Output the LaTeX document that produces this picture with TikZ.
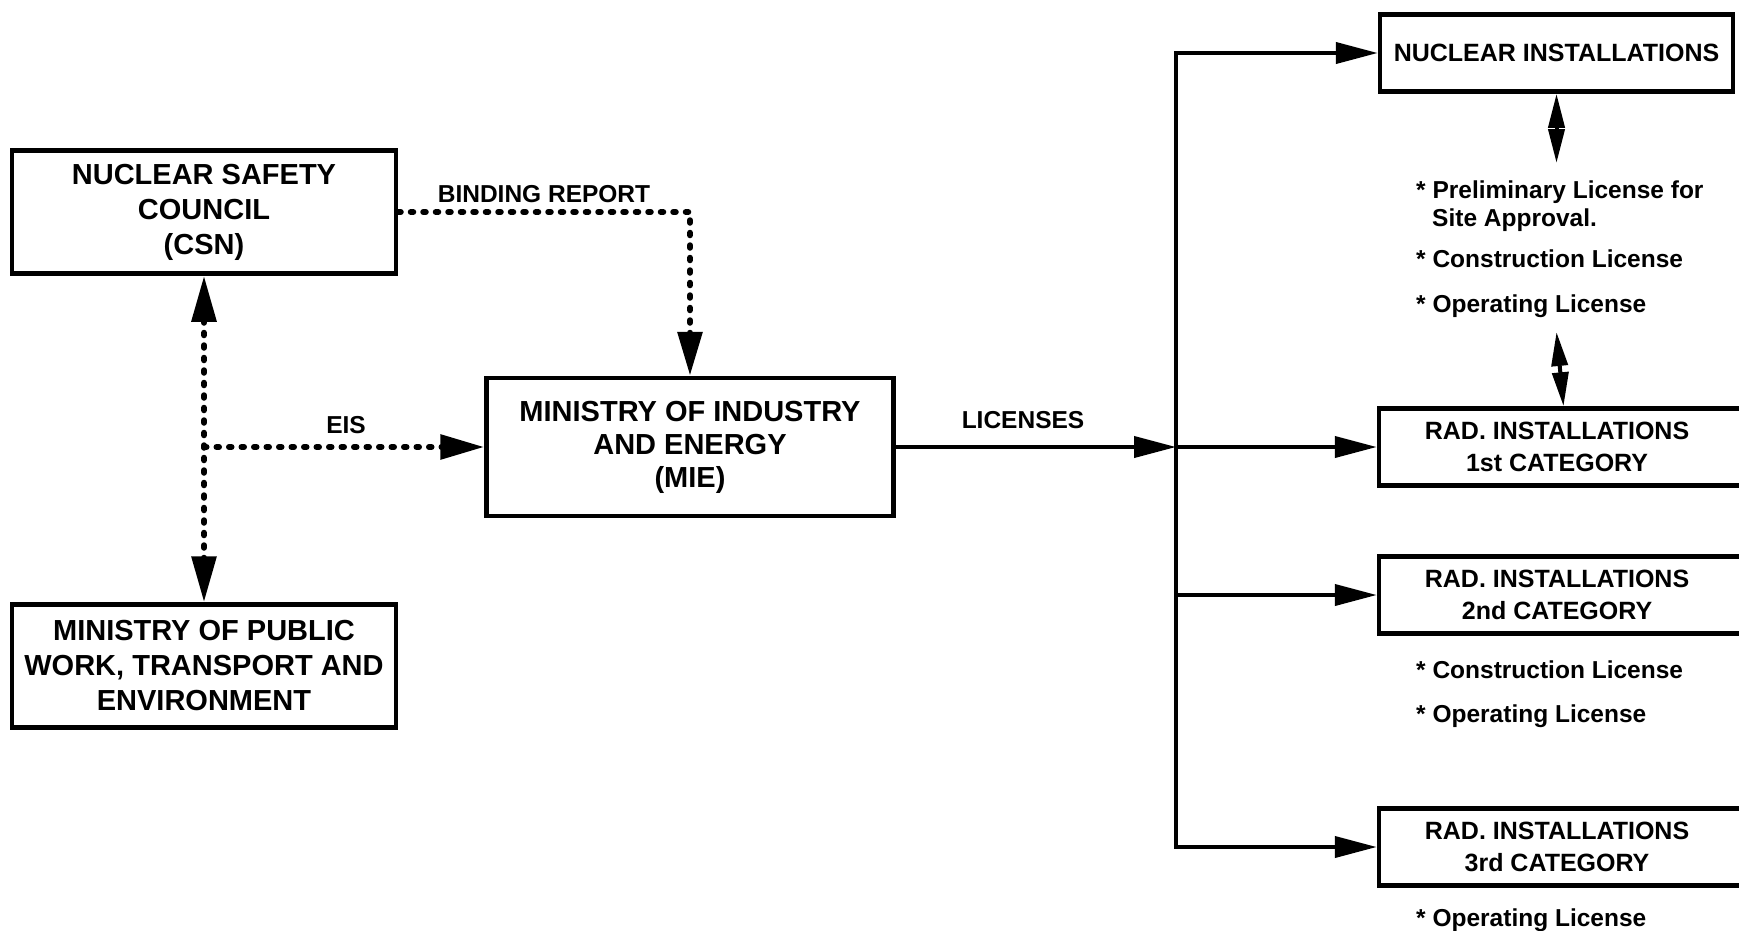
\documentclass[tikz,border=0pt]{standalone}
\usepackage{fontspec}
\setmainfont{Liberation Sans}
\usetikzlibrary{arrows.meta}
\begin{document}
\begin{tikzpicture}[x=1pt,y=-1pt,
  lbox/.style={draw, line width=4.5pt, align=center, inner sep=0pt,
    font=\fontsize{29}{35}\selectfont\bfseries},
  mbox/.style={lbox, font=\fontsize{29}{33}\selectfont\bfseries},
  rbox/.style={draw, line width=4.5pt, align=center, inner sep=0pt, minimum height=77pt,
    font=\fontsize{25}{32}\selectfont\bfseries},
  lbl/.style={inner sep=0pt, font=\fontsize{24.5}{28}\selectfont\bfseries},
  lst/.style={anchor=base west, inner sep=0pt, font=\fontsize{24.5}{28}\selectfont\bfseries},
  dotline/.style={line width=6pt, dash pattern=on 2.5pt off 10pt, line cap=round},
  sline/.style={line width=4pt},
  bigtip/.style={-{Triangle[length=44pt,width=24pt]}},
  bigtips/.style={{Triangle[length=46pt,width=24pt]}-{Triangle[length=46pt,width=24pt]}},
  midtip/.style={-{Triangle[length=42pt,width=21pt]}},
  midtips/.style={{Triangle[length=42pt,width=21pt]}-{Triangle[length=42pt,width=21pt]}},
  smalltips/.style={{Triangle[length=34pt,width=16pt]}-{Triangle[length=34pt,width=16pt]}}
]
\useasboundingbox (0,0) rectangle (1739,930);

% left and centre boxes
\node[lbox, minimum width=384pt, minimum height=123pt] (csn) at (204,212)
  {NUCLEAR SAFETY\\COUNCIL\\(CSN)};
\node[lbox, minimum width=384pt, minimum height=123pt] (mpw) at (204,666)
  {MINISTRY OF PUBLIC\\WORK, TRANSPORT AND\\ENVIRONMENT};
\node[mbox, minimum width=407pt, minimum height=138pt] (mie) at (690,447)
  {MINISTRY OF INDUSTRY\\AND ENERGY\\(MIE)};

% right boxes
\node[rbox, minimum width=353pt] (nuc) at (1556.5,53) {NUCLEAR INSTALLATIONS};
\node[rbox, minimum width=369pt] (rad1) at (1563.5,447)
  {RAD. INSTALLATIONS\hspace*{13pt}\\1st CATEGORY\hspace*{13pt}};
\node[rbox, minimum width=369pt] (rad2) at (1563.5,595)
  {RAD. INSTALLATIONS\hspace*{13pt}\\2nd CATEGORY\hspace*{13pt}};
\node[rbox, minimum width=369pt] (rad3) at (1563.5,847)
  {RAD. INSTALLATIONS\hspace*{13pt}\\3rd CATEGORY\hspace*{13pt}};

% labels
\node[lbl] (br) at (544,194) {BINDING REPORT};
\node[lbl] (eis) at (346,425) {EIS};
\node[lbl] (lic) at (1023,420) {LICENSES};

% license lists
\node[lst] (n1) at (1416,198) {* Preliminary License for};
\node[lst] (n2) at (1432,226) {Site Approval.};
\node[lst] (n3) at (1416,267) {* Construction License};
\node[lst] (n4) at (1416,312) {* Operating License};
\node[lst] (r2a) at (1416,678) {* Construction License};
\node[lst] (r2b) at (1416,722) {* Operating License};
\node[lst] (r3a) at (1416,926) {* Operating License};

% dotted connectors
\draw[dotline, bigtip] (csn.east) -| (mie.north);
\draw[dotline, bigtips] (csn.south) -- (mpw.north);
\coordinate (eisj) at (csn.south |- mie.west);
\draw[dotline, bigtip] (eisj) -- (mie.west);

% solid connectors
\coordinate (tk) at (1176,0);
\draw[sline, midtip] (mie.east) -- (tk |- mie.east);
\draw[sline, midtips] (nuc.west) -- (tk |- nuc.west) -- (tk |- rad3.west) -- (rad3.west);
\draw[sline, midtip] (tk |- rad1.west) -- (rad1.west);
\draw[sline, midtip] (tk |- rad2.west) -- (rad2.west);

% short double arrows
\coordinate (d1) at (1556.5,163);
\coordinate (d2) at (1556.5,332);
\draw[sline, smalltips] (nuc.south) -- (d1);
\draw[sline, smalltips] (d2) -- (rad1.north);
\end{tikzpicture}
\end{document}
